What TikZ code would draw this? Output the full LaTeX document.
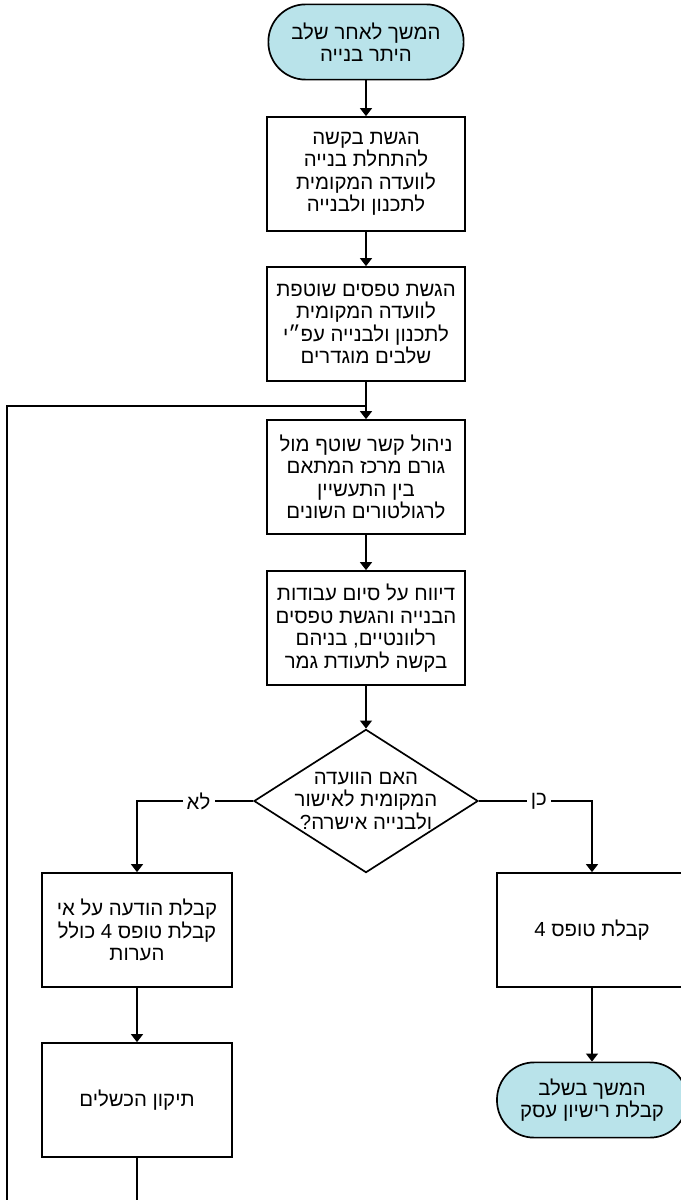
\documentclass[tikz,border=0pt]{standalone}
\usepackage{fontspec}
\newfontfamily\hebfont[Script=Hebrew]{Liberation Sans}
\TeXXeTstate=1
\usetikzlibrary{shapes.geometric,arrows.meta}
\definecolor{termblue}{RGB}{185,227,234}
\newcommand{\rtl}[1]{\beginR#1\endR}
\tikzset{
	heb/.style={font=\hebfont\fontsize{14.5}{16}\selectfont, align=center},
	stepbox/.style={heb, draw, line width=1.2pt, minimum width=4.95cm, minimum height=2.85cm, inner sep=2pt},
	sidebox/.style={stepbox, minimum width=4.75cm},
	terminal/.style={heb, draw, line width=1.2pt, fill=termblue, rounded corners=0.93cm, minimum height=1.88cm},
	flow/.style={line width=1pt, -{Triangle[width=0.3cm,length=0.2cm]}},
	plain/.style={line width=1pt},
	answer/.style={heb, fill=white, inner sep=3pt}
}
\begin{document}
\begin{tikzpicture}[x=0.025cm, y=-0.025cm]
		\useasboundingbox (0,0) rectangle (680,1200);
		\node [terminal, minimum width=4.88cm] (start) at (366,42) {\rtl{המשך לאחר שלב}\\\rtl{היתר בנייה}};
		\node [stepbox] (request) at (366,174) {\rtl{הגשת בקשה}\\\rtl{להתחלת בנייה}\\\rtl{לוועדה המקומית}\\\rtl{לתכנון ולבנייה}};
		\node [stepbox] (forms) at (366,324) {\rtl{הגשת טפסים שוטפת}\\\rtl{לוועדה המקומית}\\\rtl{לתכנון ולבנייה עפ״י}\\\rtl{שלבים מוגדרים}};
		\node [stepbox] (liaison) at (366,477) {\rtl{ניהול קשר שוטף מול}\\\rtl{גורם מרכז המתאם}\\\rtl{בין התעשיין}\\\rtl{לרגולטורים השונים}};
		\node [stepbox] (report) at (366,628) {\rtl{דיווח על סיום עבודות}\\\rtl{הבנייה והגשת טפסים}\\\rtl{רלוונטיים, בניהם}\\\rtl{בקשה לתעודת גמר}};
		\node [diamond, draw, line width=1.2pt, minimum width=5.6cm, minimum height=3.58cm, inner sep=0pt] (approved) at (366,801) {};
		\node [heb] (question) at (approved) {\rtl{האם הוועדה}\\\rtl{המקומית לאישור}\\\rtl{ולבנייה אישרה?}};
		\node [sidebox] (rejected) at (137,930) {\rtl{קבלת הודעה על אי}\\\rtl{קבלת טופס 4 כולל}\\\rtl{הערות}};
		\node [sidebox] (fix) at (137,1100) {\rtl{תיקון הכשלים}};
		\node [sidebox] (form4) at (592,930) {\rtl{קבלת טופס 4}};
		\node [terminal, minimum width=4.75cm] (license) at (592,1100) {\rtl{המשך בשלב}\\\rtl{קבלת רישיון עסק}};
		\coordinate (join) at (366,406);
		\coordinate (below) at (7,1240);
		\draw [flow] (start) -- (request);
		\draw [flow] (request) -- (forms);
		\draw [flow] (forms) -- (liaison);
		\draw [flow] (liaison) -- (report);
		\draw [flow] (report) -- (approved);
		\draw [flow] (approved.west) -| node [answer, pos=0.235] {\rtl{לא}} (rejected.north);
		\draw [flow] (approved.east) -| node [answer, pos=0.265] {\rtl{כן}} (form4.north);
		\draw [flow] (rejected) -- (fix);
		\draw [flow] (form4) -- (license);
		\draw [plain] (fix.south) |- (below) |- (join);
	\end{tikzpicture}
\end{document}
